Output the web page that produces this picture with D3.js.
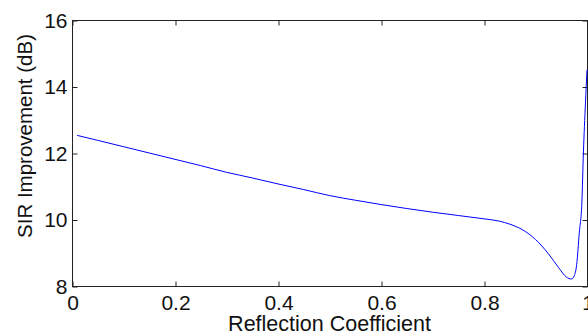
<!DOCTYPE html>
<html>
<head>
<meta charset="utf-8">
<script src="https://cdn.jsdelivr.net/npm/d3@7"></script>
<style>
  body { margin: 0; background: #fff; }
  svg { display: block; font-family: "Liberation Sans", Arial, sans-serif; }
  .axis text { font-size: 21px; fill: #111; }
  .axis line { stroke: #222; }
  .axis path { display: none; }
</style>
</head>
<body>
<svg class="chart" width="588" height="335"></svg>
<script>
// reflection coefficient vs SIR improvement
var reflection = [0.01, 0.05, 0.1, 0.15, 0.2, 0.25, 0.3, 0.35, 0.4, 0.45, 0.5, 0.55, 0.6, 0.65, 0.7, 0.75, 0.8,
  0.83, 0.85, 0.875, 0.9, 0.925, 0.945, 0.96, 0.97, 0.975, 0.98, 0.985, 0.99, 0.993, 0.997, 1.0];
var sirGain = [12.53, 12.38, 12.19, 12.0, 11.81, 11.62, 11.42, 11.25, 11.07, 10.9, 10.72, 10.58, 10.45, 10.33, 10.22, 10.12, 10.02,
  9.95, 9.86, 9.69, 9.4, 8.97, 8.55, 8.27, 8.21, 8.3, 8.65, 9.6, 10.5, 12.0, 13.5, 14.5];
var xTicks = [0, 0.2, 0.4, 0.6, 0.8, 1];
var yTicks = [8, 10, 12, 14, 16];

var margin = { left: 72, top: 20, right: 587, bottom: 286 };
var svg = d3.select('.chart');

var x = d3.scaleLinear().domain([0, 1]).range([margin.left, margin.right]);
var y = d3.scaleLinear().domain([8, 16]).range([margin.bottom, margin.top]);

// box
svg.append("rect")
  .attr("x", margin.left + 0.5).attr("y", margin.top + 0.5)
  .attr("width", margin.right - margin.left).attr("height", margin.bottom - margin.top)
  .attr("fill", "none").attr("stroke", "#222").attr("stroke-width", 1);

// ticks point inward, matlab style
svg.append("g").attr("class", "axis")
  .attr("transform", "translate(0.5," + (margin.bottom + 0.5) + ")")
  .call(d3.axisBottom(x).tickValues(xTicks).tickFormat(d3.format("")).tickSizeInner(-5).tickSizeOuter(0).tickPadding(9));

svg.append("g").attr("class", "axis")
  .attr("transform", "translate(0.5," + (margin.top + 0.5) + ")")
  .call(d3.axisTop(x).tickValues(xTicks).tickFormat("").tickSizeInner(-5).tickSizeOuter(0));

svg.append("g").attr("class", "axis")
  .attr("transform", "translate(" + (margin.left + 0.5) + ",0.5)")
  .call(d3.axisLeft(y).tickValues(yTicks).tickSizeInner(-5).tickSizeOuter(0).tickPadding(5));

svg.append("g").attr("class", "axis")
  .attr("transform", "translate(" + (margin.right + 0.5) + ",0.5)")
  .call(d3.axisRight(y).tickValues(yTicks).tickFormat("").tickSizeInner(-5).tickSizeOuter(0));

var points = reflection.map(function(d, i) {
  return { r: d, s: sirGain[i] };
});

var lineFunction = d3.line()
  .x(function(d) { return x(d.r); })
  .y(function(d) { return y(d.s); })
  .curve(d3.curveMonotoneX);

svg.append("path")
  .attr("d", lineFunction(points))
  .attr("fill", "none")
  .attr("stroke", "#0000ff")
  .attr("stroke-width", 1);

// axis labels
svg.append("text")
  .attr("x", (margin.left + margin.right) / 2)
  .attr("y", 331)
  .attr("text-anchor", "middle")
  .attr("font-size", 21.5)
  .attr("fill", "#111")
  .text("Reflection Coefficient");

svg.append("text")
  .attr("transform", "translate(32,136) rotate(-90)")
  .attr("text-anchor", "middle")
  .attr("font-size", 20.5)
  .attr("fill", "#111")
  .text("SIR Improvement (dB)");
</script>
</body>
</html>
